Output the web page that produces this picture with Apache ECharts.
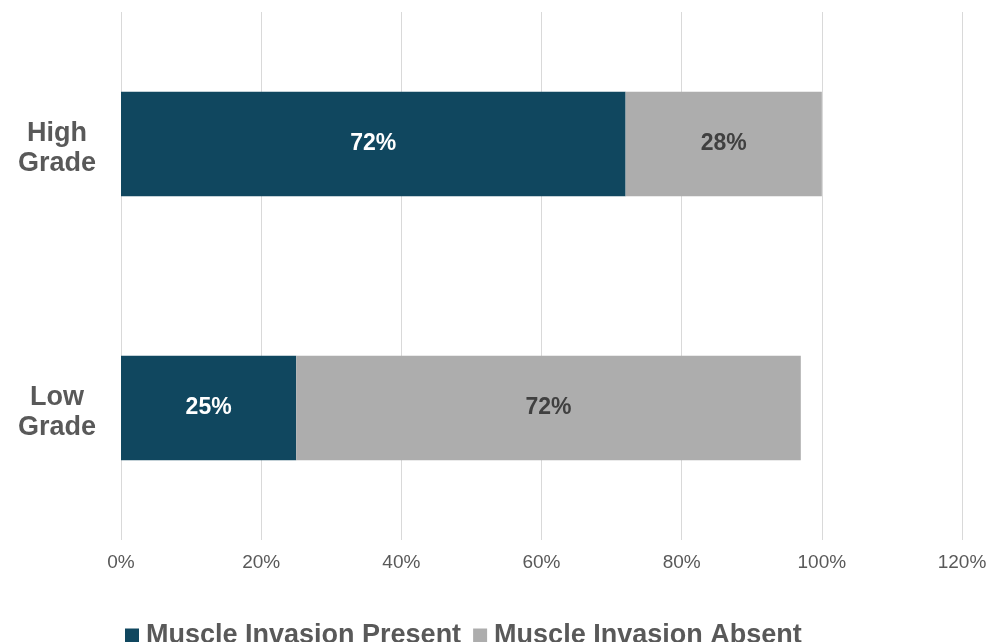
<!DOCTYPE html>
<html><head><meta charset="utf-8">
<script src="https://cdn.jsdelivr.net/npm/echarts@6/dist/echarts.min.js"></script>
<style>html,body{margin:0;padding:0;background:#fff}#c{width:1002px;height:642px}</style>
</head><body><div id="c"></div>
<script>
const categories = ['Low\nGrade', 'High\nGrade'];
const presentValues = [25, 72];
const absentValues = [72, 28];
const seriesNames = ['Muscle Invasion Present', 'Muscle Invasion Absent'];
const tickMax = 120;
const tickStep = 20;

const chart = echarts.init(document.getElementById('c'), null, {renderer: 'canvas'});
chart.setOption({
  animation: false,
  backgroundColor: '#ffffff',
  grid: {left: 121, right: 40, top: 12, bottom: 102, containLabel: false},
  legend: {
    left: 120, top: 617,
    itemWidth: 14, itemHeight: 14, itemGap: 12,
    icon: 'rect',
    textStyle: {fontFamily: 'Liberation Sans', fontWeight: 'bold', fontSize: 27, color: '#595959', padding: [0,0,0,2]},
    data: seriesNames
  },
  xAxis: {
    type: 'value', min: 0, max: tickMax, interval: tickStep,
    axisLine: {show: false}, axisTick: {show: false},
    splitLine: {lineStyle: {color: '#D9D9D9', width: 1}},
    axisLabel: {formatter: '{value}%', fontFamily: 'Liberation Sans', fontSize: 19, color: '#595959', margin: 13}
  },
  yAxis: {
    type: 'category', data: categories,
    axisLine: {show: false}, axisTick: {show: false},
    axisLabel: {
      align: 'center', margin: 64,
      formatter: function (v) { const p = v.split('\n'); return '{f|' + p[0] + '}\n{s|' + p[1] + '}'; },
      rich: {
        f: {fontFamily: 'Liberation Sans', fontWeight: 'bold', fontSize: 27, lineHeight: 39, color: '#595959', align: 'center'},
        s: {fontFamily: 'Liberation Sans', fontWeight: 'bold', fontSize: 27, lineHeight: 21, color: '#595959', align: 'center'}
      }
    }
  },
  series: [
    {name: seriesNames[0], type: 'bar', stack: 'a', data: presentValues, barWidth: '39.5%',
     itemStyle: {color: '#10475F'},
     label: {show: true, position: 'inside', formatter: '{c}%', fontFamily: 'Liberation Sans', fontWeight: 'bold', fontSize: 23, color: '#ffffff'}},
    {name: seriesNames[1], type: 'bar', stack: 'a', data: absentValues, barWidth: '39.5%',
     itemStyle: {color: '#ADADAD'},
     label: {show: true, position: 'inside', formatter: '{c}%', fontFamily: 'Liberation Sans', fontWeight: 'bold', fontSize: 23, color: '#404040'}}
  ]
});
</script></body></html>
